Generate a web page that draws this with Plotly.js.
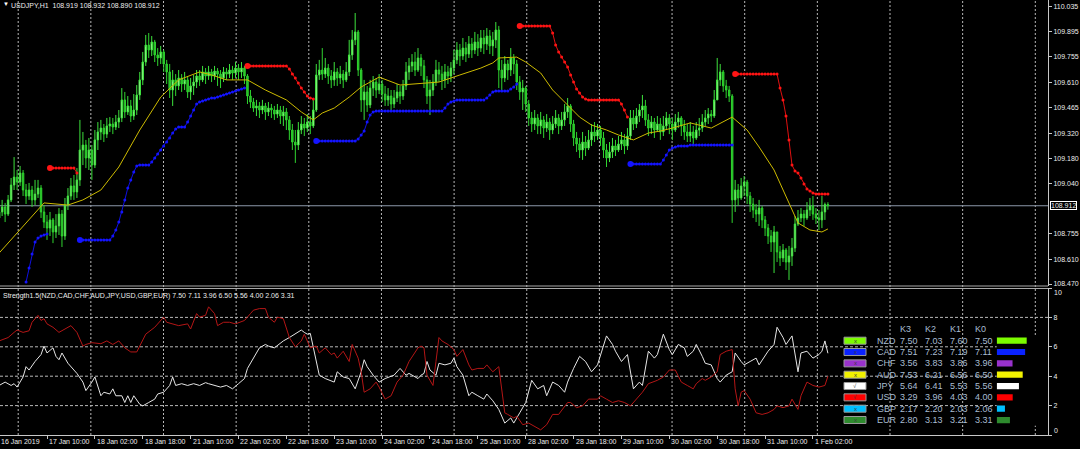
<!DOCTYPE html>
<html><head><meta charset="utf-8">
<script src="https://cdn.plot.ly/plotly-3.0.1.min.js"></script>
<style>html,body{margin:0;padding:0;background:#000;}#chart{width:1080px;height:449px;}</style>
</head><body><div id="chart"></div>
<script>
// ---------- DATA ----------
const symbol = 'USDJPY,H1';
const open = [108.843,108.877,108.905,108.865,108.945,109.029,109.074,109.046,109.097,109.001,
108.967,109.001,108.945,108.978,109.012,108.877,108.820,108.786,108.832,108.764,
108.798,108.865,108.741,108.916,108.967,109.024,108.990,109.058,109.227,109.255,
109.182,109.227,109.142,109.284,109.329,109.351,109.317,109.363,109.374,109.357,
109.385,109.408,109.510,109.442,109.476,109.419,109.453,109.538,109.623,109.724,
109.820,109.792,109.837,109.764,109.747,109.781,109.713,109.668,109.566,109.623,
109.589,109.634,109.600,109.623,109.555,109.589,109.611,109.645,109.623,109.668,
109.645,109.668,109.645,109.673,109.656,109.634,109.668,109.656,109.679,109.662,
109.690,109.668,109.690,109.645,109.532,109.498,109.464,109.476,109.453,109.476,
109.442,109.464,109.453,109.430,109.453,109.419,109.442,109.397,109.340,109.272,
109.255,109.340,109.374,109.351,109.385,109.363,109.453,109.651,109.679,109.656,
109.690,109.645,109.623,109.668,109.634,109.656,109.623,109.668,109.764,109.849,
109.894,109.679,109.510,109.555,109.481,109.577,109.611,109.566,109.600,109.543,
109.510,109.532,109.487,109.521,109.555,109.532,109.589,109.668,109.702,109.724,
109.679,109.747,109.702,109.623,109.532,109.566,109.611,109.679,109.656,109.623,
109.668,109.645,109.690,109.736,109.792,109.758,109.803,109.769,109.826,109.792,
109.837,109.803,109.860,109.826,109.871,109.815,109.849,109.905,109.679,109.634,
109.713,109.679,109.747,109.713,109.611,109.555,109.577,109.487,109.408,109.374,
109.408,109.363,109.397,109.351,109.385,109.340,109.374,109.408,109.363,109.397,
109.442,109.476,109.374,109.295,109.261,109.227,109.272,109.238,109.284,109.329,
109.306,109.340,109.295,109.227,109.182,109.216,109.250,109.227,109.261,109.284,
109.250,109.306,109.408,109.374,109.419,109.453,109.476,109.397,109.351,109.385,
109.340,109.374,109.329,109.363,109.408,109.374,109.340,109.385,109.408,109.363,
109.329,109.306,109.329,109.295,109.340,109.351,109.385,109.408,109.430,109.419,
109.510,109.623,109.668,109.589,109.566,109.532,108.945,109.001,108.956,109.024,
109.046,108.967,108.922,108.888,108.865,108.899,108.832,108.786,108.741,108.707,
108.764,108.651,108.617,108.662,108.594,108.628,108.673,108.809,108.843,108.865,
108.843,108.888,108.911,108.865,108.843,108.832,108.877,108.919];
const high = [108.916,108.945,108.928,108.973,109.069,109.187,109.114,109.137,109.114,109.035,
109.041,109.024,109.058,109.058,109.029,108.916,108.860,108.877,108.843,108.865,
108.899,108.888,108.956,109.012,109.069,109.086,109.125,109.397,109.329,109.284,
109.295,109.255,109.340,109.385,109.397,109.374,109.408,109.413,109.408,109.425,
109.453,109.577,109.555,109.532,109.510,109.543,109.594,109.668,109.781,109.877,
109.888,109.871,109.849,109.803,109.815,109.792,109.736,109.713,109.679,109.656,
109.679,109.656,109.668,109.645,109.634,109.651,109.679,109.679,109.702,109.690,
109.702,109.685,109.702,109.690,109.679,109.696,109.690,109.713,109.702,109.724,
109.713,109.724,109.702,109.656,109.566,109.521,109.510,109.498,109.510,109.493,
109.498,109.487,109.476,109.487,109.476,109.476,109.464,109.419,109.374,109.340,
109.385,109.419,109.408,109.430,109.419,109.510,109.713,109.736,109.803,109.747,
109.713,109.679,109.724,109.690,109.702,109.679,109.724,109.849,109.905,110.001,
109.905,109.690,109.623,109.589,109.623,109.645,109.634,109.656,109.623,109.589,
109.577,109.566,109.566,109.600,109.589,109.623,109.724,109.747,109.769,109.781,
109.803,109.769,109.736,109.645,109.623,109.656,109.736,109.724,109.702,109.713,
109.702,109.724,109.792,109.837,109.826,109.860,109.837,109.871,109.860,109.894,
109.882,109.905,109.905,109.916,109.905,109.894,109.950,109.928,109.736,109.758,
109.736,109.803,109.769,109.736,109.645,109.623,109.589,109.510,109.442,109.453,
109.430,109.442,109.419,109.430,109.408,109.419,109.453,109.430,109.442,109.487,
109.521,109.487,109.397,109.329,109.295,109.329,109.306,109.340,109.374,109.385,
109.374,109.363,109.329,109.261,109.272,109.295,109.284,109.306,109.329,109.317,
109.351,109.453,109.453,109.464,109.487,109.538,109.510,109.430,109.419,109.408,
109.419,109.408,109.419,109.442,109.430,109.408,109.430,109.442,109.419,109.397,
109.374,109.385,109.363,109.385,109.408,109.430,109.453,109.464,109.453,109.566,
109.747,109.713,109.679,109.623,109.589,109.543,109.058,109.035,109.069,109.080,
109.058,108.990,108.956,108.922,108.945,108.911,108.854,108.809,108.775,108.798,
108.764,108.685,108.696,108.673,108.685,108.730,108.854,108.888,108.899,108.888,
108.933,108.956,108.967,108.899,108.888,108.967,108.930,108.932];
const low = [108.803,108.854,108.820,108.854,108.933,109.001,109.001,109.024,108.967,108.922,
108.945,108.905,108.916,108.956,108.843,108.786,108.719,108.741,108.701,108.730,
108.747,108.679,108.719,108.888,108.945,108.945,108.956,109.024,109.142,109.125,
109.114,109.058,109.125,109.227,109.284,109.272,109.295,109.329,109.317,109.340,
109.351,109.385,109.408,109.425,109.385,109.397,109.425,109.510,109.594,109.702,
109.747,109.758,109.724,109.702,109.713,109.668,109.600,109.521,109.476,109.532,
109.566,109.555,109.566,109.521,109.510,109.538,109.577,109.589,109.611,109.600,
109.623,109.611,109.623,109.589,109.577,109.611,109.623,109.634,109.623,109.634,
109.623,109.634,109.600,109.487,109.464,109.442,109.419,109.408,109.430,109.397,
109.419,109.408,109.397,109.408,109.374,109.363,109.340,109.284,109.227,109.154,
109.227,109.317,109.306,109.329,109.317,109.351,109.442,109.623,109.623,109.634,
109.600,109.577,109.589,109.589,109.600,109.577,109.611,109.645,109.736,109.820,
109.645,109.442,109.397,109.442,109.464,109.532,109.521,109.543,109.498,109.476,
109.476,109.453,109.464,109.498,109.487,109.510,109.566,109.623,109.668,109.645,
109.668,109.645,109.577,109.487,109.425,109.532,109.589,109.611,109.566,109.577,
109.600,109.611,109.656,109.713,109.702,109.736,109.724,109.747,109.747,109.769,
109.758,109.781,109.769,109.792,109.769,109.758,109.803,109.577,109.566,109.611,
109.623,109.645,109.656,109.566,109.510,109.453,109.442,109.363,109.329,109.340,
109.317,109.317,109.295,109.329,109.284,109.317,109.351,109.317,109.340,109.363,
109.408,109.329,109.250,109.216,109.182,109.171,109.193,109.227,109.250,109.272,
109.284,109.250,109.182,109.131,109.159,109.182,109.193,109.216,109.227,109.204,
109.227,109.284,109.340,109.351,109.385,109.408,109.363,109.306,109.317,109.295,
109.329,109.284,109.306,109.340,109.317,109.284,109.329,109.351,109.306,109.284,
109.272,109.272,109.261,109.284,109.306,109.329,109.363,109.374,109.385,109.408,
109.510,109.589,109.555,109.521,109.498,108.815,108.877,108.911,108.945,108.967,
108.922,108.877,108.843,108.820,108.798,108.786,108.741,108.696,108.651,108.532,
108.594,108.572,108.594,108.549,108.493,108.572,108.651,108.798,108.820,108.798,
108.832,108.854,108.832,108.809,108.775,108.786,108.832,108.890];
const close = [108.877,108.905,108.865,108.945,109.029,109.074,109.046,109.097,109.001,108.967,
109.001,108.945,108.978,109.012,108.877,108.820,108.786,108.832,108.764,108.798,
108.865,108.741,108.916,108.967,109.024,108.990,109.058,109.227,109.255,109.182,
109.227,109.142,109.284,109.329,109.351,109.317,109.363,109.374,109.357,109.385,
109.408,109.510,109.442,109.476,109.419,109.453,109.538,109.623,109.724,109.820,
109.792,109.837,109.764,109.747,109.781,109.713,109.668,109.566,109.623,109.589,
109.634,109.600,109.623,109.555,109.589,109.611,109.645,109.623,109.668,109.645,
109.668,109.645,109.673,109.656,109.634,109.668,109.656,109.679,109.662,109.690,
109.668,109.690,109.645,109.532,109.498,109.464,109.476,109.453,109.476,109.442,
109.464,109.453,109.430,109.453,109.419,109.442,109.397,109.340,109.272,109.255,
109.340,109.374,109.351,109.385,109.363,109.453,109.651,109.679,109.656,109.690,
109.645,109.623,109.668,109.634,109.656,109.623,109.668,109.764,109.849,109.894,
109.679,109.510,109.555,109.481,109.577,109.611,109.566,109.600,109.543,109.510,
109.532,109.487,109.521,109.555,109.532,109.589,109.668,109.702,109.724,109.679,
109.747,109.702,109.623,109.532,109.566,109.611,109.679,109.656,109.623,109.668,
109.645,109.690,109.736,109.792,109.758,109.803,109.769,109.826,109.792,109.837,
109.803,109.860,109.826,109.871,109.815,109.849,109.905,109.679,109.634,109.713,
109.679,109.747,109.713,109.611,109.555,109.577,109.487,109.408,109.374,109.408,
109.363,109.397,109.351,109.385,109.340,109.374,109.408,109.363,109.397,109.442,
109.476,109.374,109.295,109.261,109.227,109.272,109.238,109.284,109.329,109.306,
109.340,109.295,109.227,109.182,109.216,109.250,109.227,109.261,109.284,109.250,
109.306,109.408,109.374,109.419,109.453,109.476,109.397,109.351,109.385,109.340,
109.374,109.329,109.363,109.408,109.374,109.340,109.385,109.408,109.363,109.329,
109.306,109.329,109.295,109.340,109.351,109.385,109.408,109.430,109.419,109.510,
109.623,109.668,109.589,109.566,109.532,108.945,109.001,108.956,109.024,109.046,
108.967,108.922,108.888,108.865,108.899,108.832,108.786,108.741,108.707,108.764,
108.651,108.617,108.662,108.594,108.628,108.673,108.809,108.843,108.865,108.843,
108.888,108.911,108.865,108.843,108.832,108.877,108.919,108.912];

// Moving average
const maX = [0,7,15,23,28,34,40,47,54,60,67,71,76,83,89,96,101,105,108,112,117,121,127,134,141,147,154,161,165,167,173,176,181,185,190,194,198,203,207,212,217,221,225,231,238,245,250,254,259,263,267,271,275,277];
const maY = [108.645,108.775,108.928,108.916,108.945,109.001,109.131,109.340,109.526,109.623,109.668,109.651,109.623,109.623,109.566,109.510,109.442,109.397,109.436,109.464,109.526,109.583,109.639,109.594,109.605,109.611,109.651,109.690,109.719,109.747,109.752,109.724,109.662,109.566,109.481,109.413,109.368,109.340,109.312,109.284,109.323,109.334,109.351,109.380,109.351,109.413,109.340,109.244,109.114,108.961,108.815,108.775,108.764,108.781];

// Red resistance dots (start bar of each run + values)
const resStarts = [17, 83, 174, 246];
const resSeg1 = [109.125,109.125,109.125,109.125,109.125,109.125,109.125,109.125,109.125,109.097];
const resSeg2 = [109.702,109.702,109.702,109.702,109.702,109.702,109.702,109.702,109.702,109.702,109.702,109.702,109.702,109.702,109.685,109.656,109.634,109.605,109.577,109.555,109.532,109.521,109.515];
const resSeg3 = [109.928,109.928,109.928,109.928,109.928,109.928,109.928,109.928,109.928,109.928,109.928,109.888,109.820,109.781,109.752,109.724,109.696,109.651,109.611,109.572,109.549,109.526,109.515,109.510,109.510,109.510,109.510,109.510,109.510,109.510,109.510,109.510,109.510,109.510,109.487,109.453,109.413];
const resSeg4 = [109.656,109.656,109.656,109.656,109.656,109.656,109.656,109.656,109.656,109.656,109.656,109.656,109.656,109.656,109.656,109.577,109.510,109.419,109.284,109.142,109.108,109.097,109.069,109.035,109.007,108.995,108.984,108.978,108.978,108.978,108.978,108.978];

// Blue support dots
const supStarts = [9, 27, 106, 211];
const supSeg1 = [108.481,108.561,108.639,108.707,108.730,108.741,108.747,108.752];
const supSeg2 = [108.719,108.719,108.719,108.719,108.719,108.719,108.719,108.719,108.719,108.719,108.719,108.741,108.775,108.820,108.877,108.945,109.012,109.058,109.103,109.137,109.142,109.142,109.142,109.142,109.159,109.182,109.204,109.227,109.250,109.272,109.295,109.323,109.346,109.357,109.357,109.357,109.385,109.419,109.453,109.487,109.498,109.504,109.510,109.515,109.521,109.521,109.526,109.532,109.538,109.543,109.549,109.555,109.560,109.566,109.572,109.577];
const supSeg3 = [109.278,109.278,109.278,109.278,109.278,109.278,109.278,109.278,109.278,109.278,109.278,109.278,109.278,109.278,109.289,109.312,109.334,109.385,109.425,109.442,109.447,109.447,109.447,109.447,109.447,109.447,109.447,109.447,109.447,109.447,109.447,109.447,109.447,109.447,109.447,109.447,109.447,109.447,109.447,109.447,109.447,109.447,109.447,109.464,109.487,109.498,109.504,109.510,109.510,109.510,109.510,109.510,109.510,109.510,109.510,109.510,109.510,109.521,109.538,109.555,109.560,109.560,109.560,109.560,109.560,109.572,109.583,109.600];
const supSeg4 = [109.148,109.148,109.148,109.148,109.148,109.148,109.148,109.148,109.148,109.148,109.148,109.171,109.199,109.227,109.238,109.244,109.250,109.250,109.250,109.250,109.255,109.255,109.255,109.255,109.255,109.255,109.255,109.255,109.255,109.255,109.255,109.255,109.255,109.255,109.255];

// Strength oscillator (lower panel)
const jpyX = [0,2,4,5,6,8,9,10,12,14,15,16,18,19,20,21,23,24,26,28,29,31,32,34,35,37,38,39,41,42,43,44,45,47,48,50,52,53,55,57,58,59,61,63,65,67,69,70,72,74,76,78,80,82,83,85,87,89,90,92,94,95,97,99,101,102,103,104,106,107,109,112,113,115,117,119,121,122,123,125,127,129,132,134,136,137,140,
141,142,143,144,146,147,149,151,152,153,155,157,158,160,162,163,165,167,168,169,171,172,174,176,178,180,182,183,185,186,187,189,190,192,194,196,198,200,201,203,205,206,208,210,212,214,215,217,219,220,222,224,225,227,229,230,232,233,235,236,238,240,241,243,245,246,248,249,251,253,254,257,259,260,262,263,265,267,268,270,272,274,275,276,277];
const jpyV = [3.37,3.60,3.37,3.49,3.26,3.95,4.65,4.42,5.00,5.47,6.05,5.58,5.93,5.35,5.12,5.58,4.88,4.65,4.19,3.60,3.02,3.60,3.95,2.67,2.91,2.79,3.14,2.67,2.67,2.21,2.67,2.21,2.67,2.09,1.98,2.21,2.44,2.79,2.91,3.37,3.95,3.37,3.49,3.37,3.49,3.37,3.56,3.49,3.37,3.26,3.37,3.14,3.49,3.84,4.53,5.23,5.93,6.16,6.05,5.93,6.28,6.40,6.63,6.86,7.14,6.98,6.86,6.91,5.00,4.07,3.84,3.60,4.30,3.95,3.84,3.14,4.30,5.12,4.65,4.07,3.60,3.84,4.07,4.53,4.07,4.19,3.84,
4.07,4.19,5.00,4.42,4.07,4.88,4.77,4.88,5.23,4.65,4.07,2.67,2.91,2.67,2.44,2.79,2.33,1.74,1.28,0.81,1.16,0.81,1.51,2.21,3.72,3.14,3.37,2.67,3.60,3.49,3.37,2.91,3.60,4.53,5.35,5.00,4.30,4.77,5.47,6.74,6.16,5.70,5.00,5.47,3.14,3.60,3.37,5.70,5.23,5.47,6.86,5.81,5.47,6.16,5.93,5.35,5.70,6.16,5.35,4.88,4.77,3.84,3.60,4.07,4.30,5.58,5.00,4.77,5.00,5.23,4.77,5.70,6.16,7.33,6.63,6.16,6.74,4.30,5.58,5.70,5.23,5.47,5.70,6.40,5.56];
const usdX = [0,3,5,6,8,10,11,13,14,15,16,18,20,23,24,26,28,29,31,34,36,38,40,42,44,46,47,49,52,54,55,56,58,60,63,64,66,67,69,70,72,73,75,77,79,82,84,85,87,89,90,92,93,95,97,99,101,102,104,106,107,109,111,112,113,115,117,118,120,121,122,124,126,127,129,131,133,135,137,140,
141,142,143,145,146,147,148,150,152,153,154,155,157,158,160,162,163,165,167,168,169,170,172,173,175,177,179,181,183,185,187,190,191,193,195,197,200,201,203,205,207,209,211,213,215,217,220,222,224,226,228,230,232,233,235,236,238,240,241,243,245,246,247,248,249,251,253,255,257,259,260,262,264,265,267,268,270,272,274,276,277];
const usdV = [6.40,6.63,6.98,7.14,6.98,7.09,7.67,8.14,7.79,7.91,7.56,7.33,6.98,7.33,7.44,6.98,6.05,6.16,6.28,6.21,6.40,6.16,6.40,5.93,5.65,5.65,6.05,6.86,7.33,7.79,8.02,7.67,7.56,7.44,7.56,7.21,8.26,8.02,8.14,8.72,8.26,7.44,7.67,7.67,7.56,7.79,8.26,8.49,8.60,8.60,8.02,7.67,8.02,7.91,6.63,6.00,6.40,6.86,5.93,6.05,5.58,5.93,5.47,5.58,5.23,5.70,5.00,6.16,5.23,4.30,2.91,3.14,3.60,3.26,2.44,2.67,3.60,4.07,5.00,5.93,
6.05,5.93,4.07,3.37,5.00,6.63,6.40,6.16,5.81,5.35,5.58,5.81,4.77,4.42,4.53,4.53,4.77,4.30,4.65,2.91,1.51,1.40,1.16,1.28,0.70,0.81,0.58,0.35,0.70,1.40,1.40,2.21,2.21,1.86,1.98,2.44,2.44,2.67,2.44,2.21,2.33,2.21,1.98,2.44,2.91,3.49,3.72,3.95,4.42,4.42,3.60,3.37,3.14,3.49,3.84,3.72,3.95,4.30,5.47,5.70,5.81,3.14,1.98,2.91,3.02,2.44,1.51,1.40,1.51,1.74,1.98,1.86,1.98,2.44,1.74,2.67,3.60,3.37,3.26,3.37,4.00];

// Strength table
const currencies = ['NZD','CAD','CHF','AUD','JPY','USD','GBP','EUR'];
const k3 = [7.50,7.51,3.56,7.53,5.64,3.29,2.17,2.80];
const k2 = [7.03,7.23,3.83,6.21,6.41,3.96,2.20,3.13];
const k1 = [7.60,7.19,3.86,6.56,5.53,4.03,2.03,3.21];
const k0 = [7.50,7.11,3.96,6.50,5.56,4.00,2.06,3.31];
const curColors = ['#7cfc00','#0a22ff','#9932cc','#f2f200','#ffffff','#ff0000','#00bfff','#2e8b2e'];
const curMarks = ['x','x','x','x','\u221a','\u221a','x','x'];

// Axis labels
const priceTicks = [110.035,109.895,109.755,109.610,109.465,109.320,109.180,109.040,108.755,108.610,108.470];
const timeTickBars = [16,32,48,64,80,96,112,128,144,160,176,192,208,224,240,256,272];
const timeTickText = ['17 Jan 10:00','18 Jan 02:00','18 Jan 18:00','21 Jan 10:00','22 Jan 02:00','22 Jan 18:00','23 Jan 10:00','24 Jan 02:00','24 Jan 18:00','25 Jan 10:00','28 Jan 02:00','28 Jan 18:00','29 Jan 10:00','30 Jan 02:00','30 Jan 18:00','31 Jan 10:00','1 Feb 02:00'];
const firstDateText = '16 Jan 2019';

// ---------- DRAWING ----------
const FONT = 'Liberation Sans, Arial, sans-serif';
const AXC = '#c8c8c8', TXT = '#ececec', TBL = '#a9bdd2';
const PW = 1048, PH = 435;
const px = x => x / PW;
const py = y => 1 - y / PH;
const bars = close.map((_, i) => i);
const last = close.length - 1;

function seg(starts, segs) {
  const xs = [], ys = [];
  segs.forEach((s, k) => { s.forEach((v, j) => { xs.push(starts[k] + j); ys.push(v); }); xs.push(null); ys.push(null); });
  return [xs, ys];
}
const [rx, ry] = seg(resStarts, [resSeg1, resSeg2, resSeg3, resSeg4]);
const [bx, by] = seg(supStarts, [supSeg1, supSeg2, supSeg3, supSeg4]);
const resFirst = [resSeg1[0], resSeg2[0], resSeg3[0], resSeg4[0]];
const supFirstX = supStarts.slice(1);
const supFirst = [supSeg2[0], supSeg3[0], supSeg4[0]];

const traces = [
  {type:'candlestick', x:bars, open:open, high:high, low:low, close:close, xaxis:'x', yaxis:'y',
   increasing:{line:{color:'#3de23d', width:1}, fillcolor:'#c4ffb6'},
   decreasing:{line:{color:'#2fd42f', width:1}, fillcolor:'#24b824'},
   whiskerwidth:0, hoverinfo:'skip', showlegend:false},
  {type:'scatter', mode:'lines', x:maX, y:maY, xaxis:'x', yaxis:'y', line:{color:'#cdbb00', width:1}, hoverinfo:'skip'},
  {type:'scatter', mode:'lines+markers', x:rx, y:ry, xaxis:'x', yaxis:'y', line:{color:'#e01010', width:1}, marker:{color:'#ff1414', size:3}, hoverinfo:'skip'},
  {type:'scatter', mode:'markers', x:resStarts, y:resFirst, xaxis:'x', yaxis:'y', marker:{color:'#ff1414', size:6}, hoverinfo:'skip'},
  {type:'scatter', mode:'lines+markers', x:bx, y:by, xaxis:'x', yaxis:'y', line:{color:'#1010e0', width:1}, marker:{color:'#1414ff', size:3}, hoverinfo:'skip'},
  {type:'scatter', mode:'markers', x:supFirstX, y:supFirst, xaxis:'x', yaxis:'y', marker:{color:'#1414ff', size:6}, hoverinfo:'skip'},
  {type:'scatter', mode:'lines', x:jpyX, y:jpyV, xaxis:'x', yaxis:'y2', line:{color:'#e6e6e6', width:1}, hoverinfo:'skip'},
  {type:'scatter', mode:'lines', x:usdX, y:usdV, xaxis:'x', yaxis:'y2', line:{color:'#b41616', width:1}, hoverinfo:'skip'},
  {type:'bar', orientation:'h', x:k0, y:currencies.map((_, i) => i), xaxis:'x3', yaxis:'y3', width:0.55,
   marker:{color:curColors, line:{width:0}}, hoverinfo:'skip'}
];

const shapes = [];
for (let k = 0; k < 15; k++) {
  const xx = px(18.2 + 72.65 * k);
  shapes.push({type:'line', xref:'paper', yref:'paper', x0:xx, x1:xx, y0:0, y1:1, layer:'below',
    line:{color:'#b8b8b8', width:1, dash:'2px,2px'}});
}
[2,4,6,8].forEach(v => shapes.push({type:'line', xref:'paper', yref:'y2', x0:0, x1:1, y0:v, y1:v, layer:'below',
  line:{color:'#b8b8b8', width:1, dash:'3px,2px'}}));
shapes.push({type:'line', xref:'paper', yref:'paper', x0:0, x1:1, y0:py(286), y1:py(286), line:{color:'#a8a8a8', width:1}});
shapes.push({type:'line', xref:'paper', yref:'paper', x0:0, x1:1, y0:py(288.5), y1:py(288.5), line:{color:'#a8a8a8', width:1}});
shapes.push({type:'line', xref:'paper', yref:'y', x0:0, x1:1, y0:close[last], y1:close[last], layer:'below', line:{color:'#8c98aa', width:1}});

const rowY = r => 340.7 + 11.33 * r;
currencies.forEach((c, r) => {
  shapes.push({type:'rect', xref:'paper', yref:'paper', x0:px(844), x1:px(866), y0:py(rowY(r) + 3.5), y1:py(rowY(r) - 3.5),
    fillcolor:curColors[r], line:{color:'#9a9a9a', width:1}});
});

const ann = [];
const A = (o) => ann.push(Object.assign({showarrow:false, font:{family:FONT, size:7, color:TXT}}, o));
A({xref:'paper', yref:'paper', x:0, y:1, xanchor:'left', yanchor:'top', xshift:1, yshift:1, text:'\u25bc', font:{family:FONT, size:6, color:'#ffffff'}});
A({xref:'paper', yref:'paper', x:0, y:1, xanchor:'left', yanchor:'top', xshift:9, text:symbol + '  ' + [open[last], high[last], low[last], close[last]].map(v => v.toFixed(3)).join(' ')});
A({xref:'paper', yref:'paper', x:0, y:py(295.5), xanchor:'left', yanchor:'middle', xshift:1,
   text:'Strength1.5(' + currencies.join(',') + ') ' + k0.map(v => v.toFixed(2)).join(' ')});
A({xref:'paper', yref:'paper', x:0, y:0, xanchor:'left', yanchor:'top', xshift:-1, yshift:-1, text:firstDateText});
timeTickBars.forEach((b, i) => A({xref:'x', yref:'paper', x:b, y:0, xanchor:'left', yanchor:'top', xshift:0, yshift:-1, text:timeTickText[i]}));
A({xref:'paper', yref:'y', x:1, y:close[last], xanchor:'left', yanchor:'middle', xshift:2, text:close[last].toFixed(3),
   bgcolor:'#000000', bordercolor:'#ffffff', borderwidth:1, borderpad:0});
A({xref:'paper', yref:'paper', x:1, y:py(292), xanchor:'left', yanchor:'middle', xshift:4, text:'10'});
A({xref:'paper', yref:'paper', x:1, y:py(430), xanchor:'left', yanchor:'middle', xshift:4, text:'0'});

const TF = {family:FONT, size:9, color:TBL};
['K3','K2','K1','K0'].forEach((h, j) => A({xref:'paper', yref:'paper', x:px(897.5 + 25 * j), y:py(329.3), xanchor:'left', yanchor:'middle', text:h, font:TF}));
currencies.forEach((c, r) => {
  const yy = py(rowY(r));
  A({xref:'paper', yref:'paper', x:px(874.5), y:yy, xanchor:'left', yanchor:'middle', text:c, font:TF});
  [k3[r], k2[r], k1[r], k0[r]].forEach((v, j) => A({xref:'paper', yref:'paper', x:px(897.5 + 25 * j), y:yy, xanchor:'left', yanchor:'middle', text:v.toFixed(2), font:TF}));
  A({xref:'paper', yref:'paper', x:px(855), y:yy, xanchor:'center', yanchor:'middle', text:curMarks[r], font:{family:FONT, size:6, color:'#3a3a3a'}});
});

const layout = {
  width:1080, height:449, paper_bgcolor:'#000000', plot_bgcolor:'#000000',
  margin:{l:0, r:32, t:0, b:14, pad:0}, showlegend:false, hovermode:false,
  font:{family:FONT, size:7, color:TXT},
  xaxis:{domain:[0,1], anchor:'y2', range:[0.29, 350.56], showgrid:false, zeroline:false, showline:true, linecolor:AXC, linewidth:1,
    ticks:'outside', ticklen:3, tickcolor:AXC, tickvals:timeTickBars, showticklabels:false, rangeslider:{visible:false}, fixedrange:true},
  yaxis:{domain:[1 - 286/435, 1], anchor:'x', side:'right', range:[108.4587, 110.0745], showgrid:false, zeroline:false,
    showline:true, linecolor:AXC, linewidth:1, ticks:'outside', ticklen:3, tickcolor:AXC,
    tickvals:priceTicks, ticktext:priceTicks.map(v => v.toFixed(3)), tickfont:{family:FONT, size:7, color:TXT}, fixedrange:true},
  yaxis2:{domain:[0, 147/435], anchor:'x', side:'right', range:[0, 10], showgrid:false, zeroline:false,
    showline:true, linecolor:AXC, linewidth:1, ticks:'outside', ticklen:3, tickcolor:AXC,
    tickvals:[0,2,4,6,8,10], ticktext:['','2','4','6','8',''], tickfont:{family:FONT, size:7, color:TXT}, fixedrange:true},
  xaxis3:{domain:[996.7/1048, 1], anchor:'y3', range:[0, 12.825], visible:false, fixedrange:true},
  yaxis3:{domain:[py(425.7), py(335.0)], anchor:'x3', range:[7.5, -0.5], visible:false, fixedrange:true},
  shapes:shapes, annotations:ann
};

Plotly.newPlot('chart', traces, layout, {displayModeBar:false, staticPlot:true});
</script></body></html>
